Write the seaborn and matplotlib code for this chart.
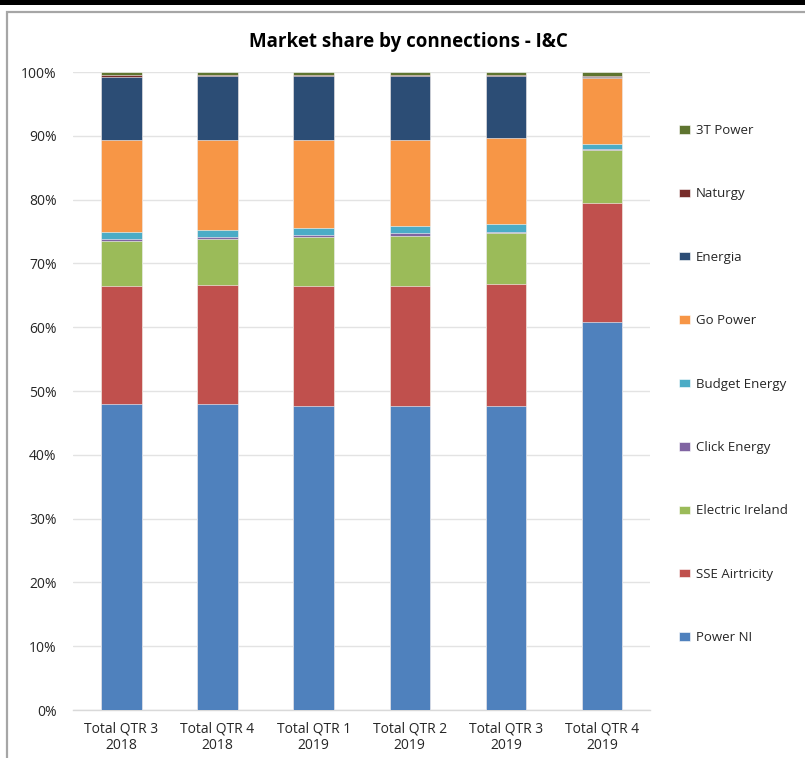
import numpy as np
import pandas as pd
import seaborn as sns
import matplotlib.pyplot as plt
from matplotlib.patches import Rectangle
from matplotlib.ticker import PercentFormatter, FixedLocator


quarters = ["Total QTR 3\n2018", "Total QTR 4\n2018", "Total QTR 1\n2019",
            "Total QTR 2\n2019", "Total QTR 3\n2019", "Total QTR 4\n2019"]

# shares in %, stacked from bottom to top
power_ni = [48.0, 48.0, 47.65, 47.7, 47.7, 60.85]
sse_airtricity = [18.4, 18.6, 18.85, 18.8, 19.0, 18.65]
electric_ireland = [7.1, 7.3, 7.6, 7.8, 8.0, 8.2]
click_energy = [0.3, 0.2, 0.35, 0.5, 0.3, 0.3]
budget_energy = [1.2, 1.2, 1.15, 1.1, 1.1, 0.7]
go_power = [14.4, 14.0, 13.7, 13.5, 13.5, 10.4]
energia = [9.8, 10.1, 10.1, 10.0, 9.8, 0.1]
naturgy = [0.3, 0.2, 0.2, 0.2, 0.2, 0.1]
three_t = [0.5, 0.4, 0.4, 0.4, 0.4, 0.7]

suppliers = ["Power NI", "SSE Airtricity", "Electric Ireland", "Click Energy",
             "Budget Energy", "Go Power", "Energia", "Naturgy", "3T Power"]
colors = ["#4F81BD", "#C0504D", "#9BBB59", "#8064A2", "#4BACC6",
          "#F79646", "#2C4D75", "#772C2A", "#5F7530"]

df = pd.DataFrame(
    [power_ni, sse_airtricity, electric_ireland, click_energy, budget_energy,
     go_power, energia, naturgy, three_t],
    index=suppliers, columns=quarters,
)
cum = df.cumsum()

sns.set_style("white")
plt.rcParams["font.family"] = ["Open Sans", "DejaVu Sans"]

fig = plt.figure(figsize=(8.05, 7.58), dpi=100)
ax = fig.add_axes([0.0911, 0.0633, 0.7164, 0.8417])

# draw cumulative totals from the top segment down so lower ones sit on top
for name, color in zip(suppliers[::-1], colors[::-1]):
    sns.barplot(x=quarters, y=cum.loc[name].values, color=color, width=0.42,
                saturation=1, edgecolor="white", linewidth=0.4,
                label=name, ax=ax, zorder=3)

ax.set_ylim(0, 100)
ax.set_xlim(-0.5, 5.5)
ax.yaxis.set_major_locator(FixedLocator(np.arange(0, 101, 10)))
ax.yaxis.set_major_formatter(PercentFormatter(decimals=0))
ax.grid(axis="y", color="#E3E3E3", linewidth=1.0, zorder=0)
ax.set_axisbelow(True)
for side in ["top", "right", "left"]:
    ax.spines[side].set_visible(False)
ax.spines["bottom"].set_color("#D9D9D9")
ax.spines["bottom"].set_linewidth(1.0)

ax.tick_params(axis="y", length=0, labelsize=10, labelcolor="#262626", pad=12)
ax.tick_params(axis="x", which="major", length=0, labelsize=10,
               labelcolor="#262626", pad=8)
ax.set_xticks(np.arange(-0.5, 6, 1), minor=True)
ax.tick_params(axis="x", which="minor", length=5, color="#D9D9D9", width=1)
ax.set_xlabel("")
ax.set_ylabel("")

fig.text(0.507, 0.945, "Market share by connections - I&C", ha="center",
         va="center", fontsize=13.5, fontweight="bold", color="black")

handles, labels = ax.get_legend_handles_labels()
if ax.get_legend() is not None:
    ax.get_legend().remove()
fig.legend(handles, labels, loc="upper left",
           bbox_to_anchor=(0.829, 0.852), frameon=False, fontsize=9.5,
           labelspacing=3.82, handlelength=0.8, handleheight=0.6,
           handletextpad=0.45, labelcolor="#262626")

# chart frame and top black band as in the screenshot
fig.patches.append(Rectangle((7 / 805, -0.1), 1.2, 1.1 - 12 / 758,
                             transform=fig.transFigure, fill=False,
                             edgecolor="#A6A6A6", linewidth=1.6))
fig.patches.append(Rectangle((0, 1 - 5 / 758), 1, 5 / 758,
                             transform=fig.transFigure, facecolor="black",
                             edgecolor="none"))

fig.savefig("out.png", dpi=100)
